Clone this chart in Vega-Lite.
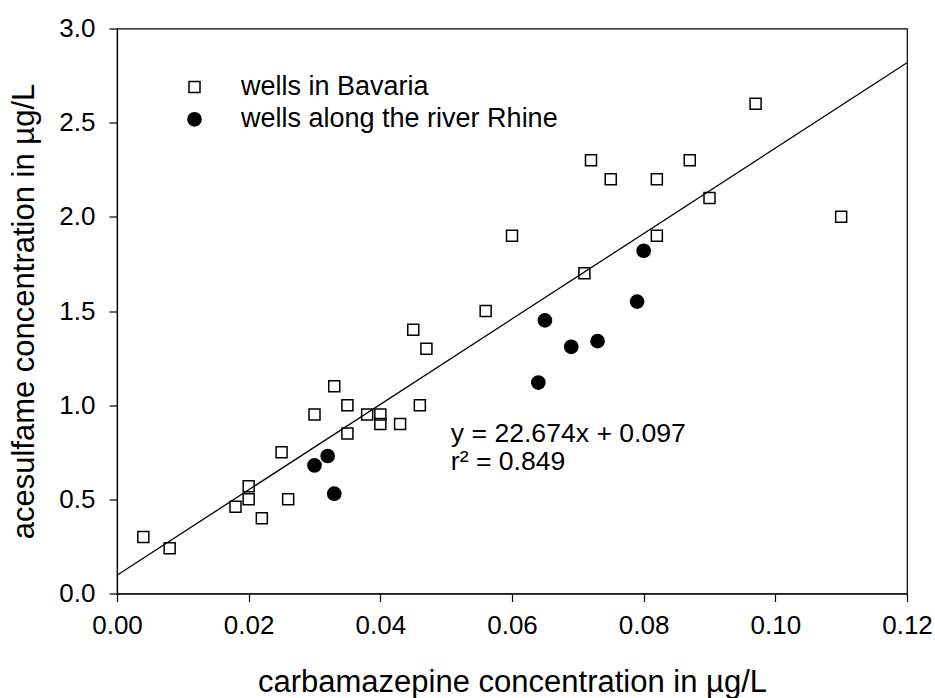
{
  "$schema": "https://vega.github.io/schema/vega-lite/v6.json",
  "autosize": "none",
  "width": 790,
  "height": 565,
  "padding": {"left": 117, "top": 28.5, "right": 28, "bottom": 104.5},
  "background": "white",
  "config": {
    "view": {"stroke": "black", "strokeWidth": 1.2},
    "font": "Liberation Sans",
    "axis": {
      "domainColor": "black", "domainWidth": 1.2, "tickColor": "black", "tickWidth": 1.2, "tickSize": 8,
      "labelFont": "Liberation Sans", "labelFontSize": 26, "labelColor": "black", "labelFlush": false,
      "titleFont": "Liberation Sans", "titleFontSize": 31, "titleFontWeight": "normal", "titleColor": "black",
      "grid": false
    },
    "legend": {"labelFont": "Liberation Sans"}
  },
  "datasets": {
    "wells": [
      {"x": 0.004, "y": 0.30, "group": "wells in Bavaria"},
      {"x": 0.008, "y": 0.24, "group": "wells in Bavaria"},
      {"x": 0.018, "y": 0.46, "group": "wells in Bavaria"},
      {"x": 0.020, "y": 0.57, "group": "wells in Bavaria"},
      {"x": 0.020, "y": 0.50, "group": "wells in Bavaria"},
      {"x": 0.022, "y": 0.40, "group": "wells in Bavaria"},
      {"x": 0.025, "y": 0.75, "group": "wells in Bavaria"},
      {"x": 0.026, "y": 0.50, "group": "wells in Bavaria"},
      {"x": 0.030, "y": 0.95, "group": "wells in Bavaria"},
      {"x": 0.033, "y": 1.10, "group": "wells in Bavaria"},
      {"x": 0.035, "y": 1.00, "group": "wells in Bavaria"},
      {"x": 0.035, "y": 0.85, "group": "wells in Bavaria"},
      {"x": 0.038, "y": 0.95, "group": "wells in Bavaria"},
      {"x": 0.040, "y": 0.95, "group": "wells in Bavaria"},
      {"x": 0.040, "y": 0.90, "group": "wells in Bavaria"},
      {"x": 0.043, "y": 0.90, "group": "wells in Bavaria"},
      {"x": 0.046, "y": 1.00, "group": "wells in Bavaria"},
      {"x": 0.045, "y": 1.40, "group": "wells in Bavaria"},
      {"x": 0.047, "y": 1.30, "group": "wells in Bavaria"},
      {"x": 0.056, "y": 1.50, "group": "wells in Bavaria"},
      {"x": 0.060, "y": 1.90, "group": "wells in Bavaria"},
      {"x": 0.071, "y": 1.70, "group": "wells in Bavaria"},
      {"x": 0.072, "y": 2.30, "group": "wells in Bavaria"},
      {"x": 0.075, "y": 2.20, "group": "wells in Bavaria"},
      {"x": 0.082, "y": 2.20, "group": "wells in Bavaria"},
      {"x": 0.082, "y": 1.90, "group": "wells in Bavaria"},
      {"x": 0.087, "y": 2.30, "group": "wells in Bavaria"},
      {"x": 0.090, "y": 2.10, "group": "wells in Bavaria"},
      {"x": 0.097, "y": 2.60, "group": "wells in Bavaria"},
      {"x": 0.110, "y": 2.00, "group": "wells in Bavaria"},
      {"x": 0.030, "y": 0.68, "group": "wells along the river Rhine"},
      {"x": 0.032, "y": 0.73, "group": "wells along the river Rhine"},
      {"x": 0.033, "y": 0.53, "group": "wells along the river Rhine"},
      {"x": 0.064, "y": 1.12, "group": "wells along the river Rhine"},
      {"x": 0.065, "y": 1.45, "group": "wells along the river Rhine"},
      {"x": 0.069, "y": 1.31, "group": "wells along the river Rhine"},
      {"x": 0.073, "y": 1.34, "group": "wells along the river Rhine"},
      {"x": 0.079, "y": 1.55, "group": "wells along the river Rhine"},
      {"x": 0.080, "y": 1.82, "group": "wells along the river Rhine"}
    ],
    "fit": [
      {"x": 0.0, "y": 0.097},
      {"x": 0.12, "y": 2.818}
    ],
    "notes": [
      {"x": 0.0507, "y": 0.807, "label": "y = 22.674x + 0.097"},
      {"x": 0.0507, "y": 0.656, "label": "r² = 0.849"}
    ]
  },
  "encoding": {
    "x": {
      "field": "x", "type": "quantitative",
      "scale": {"domain": [0, 0.12], "nice": false, "zero": false},
      "axis": {
        "values": [0, 0.02, 0.04, 0.06, 0.08, 0.10, 0.12], "format": ".2f",
        "labelPadding": 11, "title": "carbamazepine concentration in µg/L",
        "titleBaseline": "alphabetic", "titleY": 98
      }
    },
    "y": {
      "field": "y", "type": "quantitative",
      "scale": {"domain": [0, 3], "nice": false},
      "axis": {
        "values": [0, 0.5, 1, 1.5, 2, 2.5, 3], "format": ".1f",
        "labelPadding": 14, "title": "acesulfame concentration in µg/L",
        "titleBaseline": "alphabetic", "titleX": -84
      }
    }
  },
  "layer": [
    {
      "data": {"name": "fit"},
      "mark": {"type": "line", "color": "black", "strokeWidth": 1.3},
      "encoding": {}
    },
    {
      "data": {"name": "wells"},
      "mark": {"type": "point", "filled": true, "stroke": "black", "strokeWidth": 1.5, "opacity": 1},
      "encoding": {
        "shape": {
          "field": "group", "type": "nominal",
          "scale": {"domain": ["wells in Bavaria", "wells along the river Rhine"], "range": ["square", "circle"]},
          "legend": {
            "title": null, "orient": "none", "legendX": 64, "legendY": 45, "padding": 0,
            "labelFontSize": 27, "labelColor": "black", "labelOffset": 33, "labelLimit": 600,
            "rowPadding": 4.3, "symbolStrokeColor": "black", "symbolStrokeWidth": 1.5
          }
        },
        "fill": {
          "field": "group", "type": "nominal",
          "scale": {"domain": ["wells in Bavaria", "wells along the river Rhine"], "range": ["transparent", "black"]}
        },
        "size": {
          "field": "group", "type": "nominal",
          "scale": {"domain": ["wells in Bavaria", "wells along the river Rhine"], "range": [121, 174]}
        }
      }
    },
    {
      "data": {"name": "notes"},
      "mark": {"type": "text", "align": "left", "baseline": "alphabetic", "fontSize": 26.6, "color": "black", "font": "Liberation Sans"},
      "encoding": {"text": {"field": "label", "type": "nominal"}}
    }
  ]
}
